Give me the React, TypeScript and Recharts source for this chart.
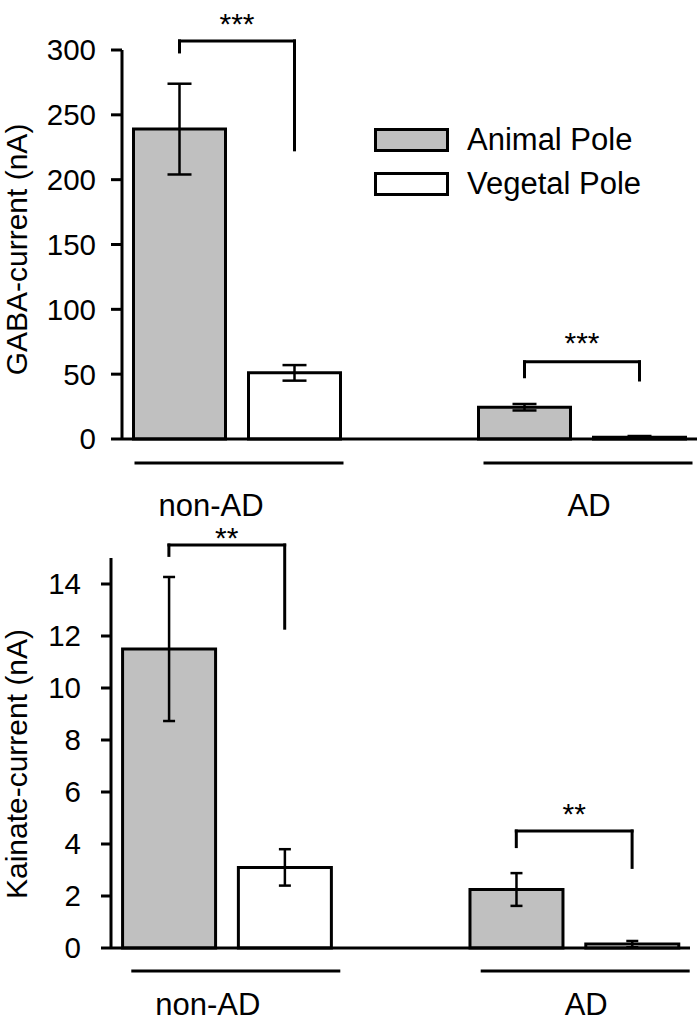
import React from 'react';
import { BarChart, Bar, XAxis, YAxis, Cell, ErrorBar, ReferenceLine, Legend } from 'recharts';

// ---------- data ----------
const groups = ['non-AD', 'AD'];
const seriesNames = ['Animal Pole', 'Vegetal Pole'];

const gabaAnimal = [239, 24.5];
const gabaAnimalErr = [35, 2.5];
const gabaVegetal = [51, 1.3];
const gabaVegetalErr = [6, 1];
const gabaTicks = [0, 50, 100, 150, 200, 250, 300];
// significance brackets: group index, bracket height, end of left leg, end of right leg
const gabaBrackets = [
  { group: 0, top: 307, leftEnd: 298.5, rightEnd: 223, stars: '***' },
  { group: 1, top: 59.5, leftEnd: 48, rightEnd: 45.5, stars: '***' },
];

const kainateAnimal = [11.5, 2.25];
const kainateAnimalErr = [2.77, 0.63];
const kainateVegetal = [3.1, 0.15];
const kainateVegetalErr = [0.7, 0.12];
const kainateTicks = [0, 2, 4, 6, 8, 10, 12, 14];
const kainateBrackets = [
  { group: 0, top: 15.5, leftEnd: 15.1, rightEnd: 12.3, stars: '**' },
  { group: 1, top: 4.5, leftEnd: 3.9, rightEnd: 3.1, stars: '**' },
];

// ---------- style ----------
const FONT = '"Liberation Sans", Arial, sans-serif';
const seriesFills = ['#c0c0c0', '#ffffff'];

type Row = { slot: string; value: number | null; err: number | null; series: number; group: number };

function buildRows(animal: number[], animalErr: number[], vegetal: number[], vegetalErr: number[]): Row[] {
  const rows: Row[] = [];
  groups.forEach((g, i) => {
    if (i > 0) rows.push({ slot: `gap${i}`, value: null, err: null, series: -1, group: -1 });
    rows.push({ slot: `${g}|0`, value: animal[i], err: animalErr[i], series: 0, group: i });
    rows.push({ slot: `${g}|1`, value: vegetal[i], err: vegetalErr[i], series: 1, group: i });
  });
  return rows;
}

const LegendContent = () => (
  <div style={{ fontFamily: FONT, fontSize: 31, color: '#000' }}>
    {seriesNames.map((n, i) => (
      <div key={n} style={{ display: 'flex', alignItems: 'center', height: 44 }}>
        <div
          style={{
            width: 75,
            height: 24,
            boxSizing: 'border-box',
            border: '3px solid #000',
            background: seriesFills[i],
            marginRight: 18,
          }}
        />
        <span style={{ lineHeight: '44px', whiteSpace: 'nowrap' }}>{n}</span>
      </div>
    ))}
  </div>
);

type PanelCfg = {
  height: number;
  margin: { top: number; right: number; bottom: number; left: number };
  yWidth: number;
  domain: [number, number];
  ticks: number[];
  tickSize: number;
  tickMargin: number;
  yLabel: string;
  yLabelX: number;
  yLabelDy: number;
  ulY: number;
  labelY: number;
  ulDx: number[];
  labelDx: number[];
  capWidth: number;
  starOffsets: number[];
  legend: boolean;
};

function Panel({ rows, brackets, cfg }: { rows: Row[]; brackets: any[]; cfg: PanelCfg }) {
  const width = 700;
  const plotWidth = width - cfg.margin.left - cfg.margin.right - cfg.yWidth;
  const slot = plotWidth / rows.length;

  const tickRenderer = (props: any) => {
    const { x, y, payload } = props;
    const key: string = String(payload.value);
    if (!key.endsWith('|0')) return <g />;
    const gName = key.slice(0, -2);
    const gi = groups.indexOf(gName);
    const cx = x + slot / 2;
    return (
      <g>
        <line
          x1={cx - 104.5 + cfg.ulDx[gi]}
          x2={cx + 104.5 + cfg.ulDx[gi]}
          y1={y + cfg.ulY}
          y2={y + cfg.ulY}
          stroke="#000"
          strokeWidth={3}
        />
        <text
          x={cx + cfg.labelDx[gi]}
          y={y + cfg.labelY}
          textAnchor="middle"
          fontSize={31}
          fontFamily={FONT}
          fill="#000"
        >
          {gName}
        </text>
      </g>
    );
  };

  const yLabel = (props: any) => {
    const vb = props.viewBox || {};
    const cy = vb.y + vb.height / 2 + cfg.yLabelDy;
    return (
      <text
        x={cfg.yLabelX}
        y={cy}
        transform={`rotate(-90, ${cfg.yLabelX}, ${cy})`}
        textAnchor="middle"
        fontSize={30}
        fontFamily={FONT}
        fill="#000"
      >
        {cfg.yLabel}
      </text>
    );
  };

  return (
    <BarChart
      width={width}
      height={cfg.height}
      data={rows}
      margin={cfg.margin}
      barCategoryGap="10%"
    >
      <XAxis
        dataKey="slot"
        type="category"
        interval={0}
        height={70}
        tickLine={false}
        tickSize={0}
        tickMargin={0}
        axisLine={{ stroke: '#000', strokeWidth: 3 }}
        tick={tickRenderer}
      />
      <YAxis
        type="number"
        domain={cfg.domain}
        ticks={cfg.ticks}
        width={cfg.yWidth}
        tickSize={cfg.tickSize}
        tickMargin={cfg.tickMargin}
        axisLine={{ stroke: '#000', strokeWidth: 3 }}
        tickLine={{ stroke: '#000', strokeWidth: 3 }}
        tick={{ fill: '#000', fontSize: 29.5, fontFamily: FONT }}
        label={yLabel}
      />
      <Bar dataKey="value" stroke="#000" strokeWidth={3} isAnimationActive={false}>
        {rows.map((r) => (
          <Cell key={r.slot} fill={r.series >= 0 ? seriesFills[r.series] : 'none'} />
        ))}
        <ErrorBar dataKey="err" width={cfg.capWidth} stroke="#000" strokeWidth={2.5} isAnimationActive={false} />
      </Bar>
      {brackets.map((b, i) => {
        const left = `${groups[b.group]}|0`;
        const right = `${groups[b.group]}|1`;
        return [
          <ReferenceLine
            key={`h${i}`}
            segment={[{ x: left, y: b.top }, { x: right, y: b.top }]}
            stroke="#000"
            strokeWidth={3}
            strokeLinecap="square"
            ifOverflow="visible"
            label={{
              value: b.stars,
              position: 'top',
              offset: cfg.starOffsets[i],
              fontSize: 30,
              fill: '#000',
              fontFamily: FONT,
            }}
          />,
          <ReferenceLine
            key={`l${i}`}
            segment={[{ x: left, y: b.top }, { x: left, y: b.leftEnd }]}
            stroke="#000"
            strokeWidth={3}
            strokeLinecap="square"
            ifOverflow="visible"
          />,
          <ReferenceLine
            key={`r${i}`}
            segment={[{ x: right, y: b.top }, { x: right, y: b.rightEnd }]}
            stroke="#000"
            strokeWidth={3}
            strokeLinecap="square"
            ifOverflow="visible"
          />,
        ];
      })}
      {cfg.legend && (
        <Legend
          layout="vertical"
          align="center"
          verticalAlign="middle"
          wrapperStyle={{ left: 374, top: 118, width: 300, height: 88 }}
          content={LegendContent}
        />
      )}
    </BarChart>
  );
}

const gabaRows = buildRows(gabaAnimal, gabaAnimalErr, gabaVegetal, gabaVegetalErr);
const kainateRows = buildRows(kainateAnimal, kainateAnimalErr, kainateVegetal, kainateVegetalErr);

const gabaCfg: PanelCfg = {
  height: 530,
  margin: { top: 50, right: 3, bottom: 21, left: 0 },
  yWidth: 122,
  domain: [0, 300],
  ticks: gabaTicks,
  tickSize: 11,
  tickMargin: 15,
  yLabel: 'GABA-current (nA)',
  yLabelX: 27,
  yLabelDy: 5,
  ulY: 24,
  labelY: 77,
  ulDx: [2, 6],
  labelDx: [-26, 7],
  capWidth: 12,
  starOffsets: [7, 9],
  legend: true,
};

const kainateCfg: PanelCfg = {
  height: 508,
  margin: { top: 38, right: 10, bottom: 10, left: 0 },
  yWidth: 111,
  domain: [0, 15],
  ticks: kainateTicks,
  tickSize: 10,
  tickMargin: 20,
  yLabel: 'Kainate-current (nA)',
  yLabelX: 27,
  yLabelDy: 11,
  ulY: 23,
  labelY: 67,
  ulDx: [9, 11],
  labelDx: [-19, 12],
  capWidth: 6,
  starOffsets: [-3, 7],
  legend: false,
};

export default function App() {
  return (
    <div style={{ position: 'absolute', left: 0, top: 0, width: 700, height: 1028, background: '#fff' }}>
      <div style={{ position: 'absolute', left: 0, top: 0 }}>
        <Panel rows={gabaRows} brackets={gabaBrackets} cfg={gabaCfg} />
      </div>
      <div style={{ position: 'absolute', left: 0, top: 520 }}>
        <Panel rows={kainateRows} brackets={kainateBrackets} cfg={kainateCfg} />
      </div>
    </div>
  );
}
